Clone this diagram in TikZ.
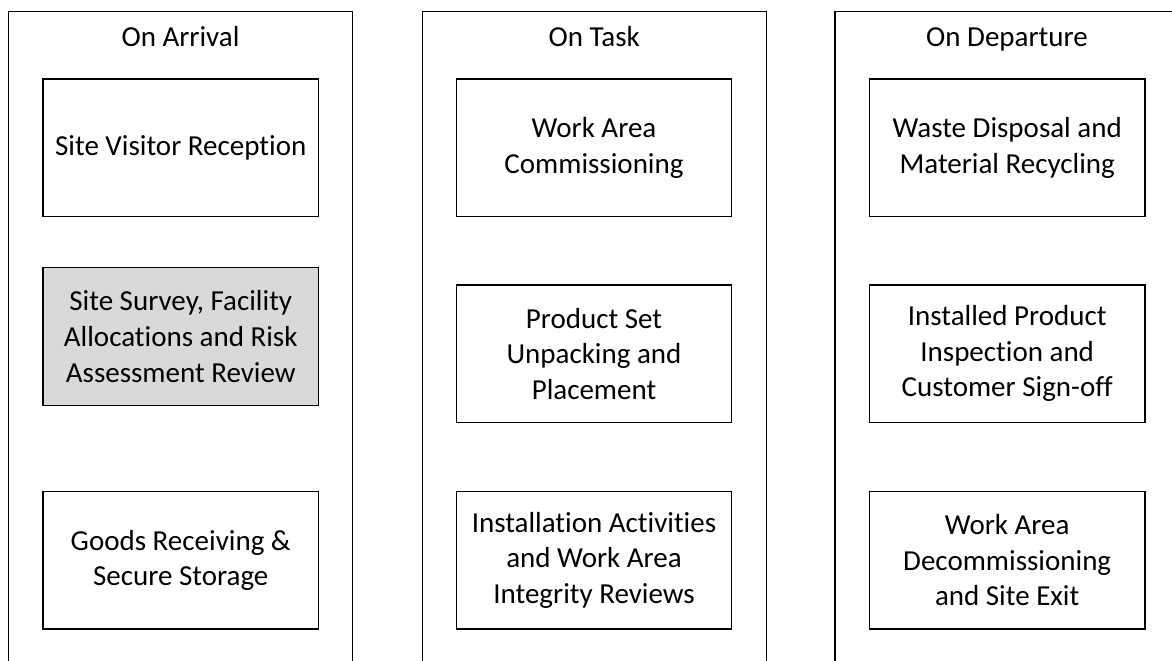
\documentclass[tikz,border=0pt]{standalone}
\usepackage{fontspec}
\setmainfont{Carlito}[Ligatures={NoCommon}]
\usetikzlibrary{positioning}

\definecolor{boxgray}{HTML}{D9D9D9}
\tikzset{
  lane/.style={draw,line width=0.55pt,minimum width=172pt,minimum height=335pt,anchor=north,inner sep=0pt},
  task/.style={draw,line width=0.7pt,minimum width=137.75pt,minimum height=68.75pt,align=center,inner sep=2pt},
  lanetitle/.style={anchor=base},
}

\begin{document}
\begin{tikzpicture}[x=0.5pt,y=-0.5pt,font=\fontsize{14.5}{17.8}\selectfont]
% Fix picture size and crop the open lane bottoms
\useasboundingbox (0,0) rectangle (1172,660);
\clip (0,0) rectangle (1172,660);
% Three lanes
\node[lane] (arrival) at (180.5,10.5) {};
\node[lane] (task) at (594.2,10.5) {};
\node[lane] (departure) at (1007,10.5) {};
% Lane titles
\node[lanetitle] (arrivaltitle) at (180.5,46.5) {On Arrival};
\node[lanetitle] (tasktitle) at (594.2,46.5) {On Task};
\node[lanetitle] (departuretitle) at (1007,46.5) {On Departure};
% On Arrival steps
\node[task] (reception) at (180.75,147.7) {Site Visitor Reception};
\node[task,fill=boxgray] (survey) at (180.75,336.5) {Site Survey, Facility\\Allocations and Risk\\Assessment Review};
\node[task] (goods) at (180.75,560.3) {Goods Receiving \&\\Secure Storage};
% On Task steps
\node[task] (commission) at (594,147.7) {Work Area\\Commissioning};
\node[task] (unpack) at (594,353.7) {Product Set\\Unpacking and\\Placement};
\node[task] (install) at (594,560.3) {Installation Activities\\and Work Area\\Integrity Reviews};
% On Departure steps
\node[task] (waste) at (1007.2,147.7) {Waste Disposal and\\Material Recycling};
\node[task] (inspect) at (1007.2,353.7) {Installed Product\\Inspection and\\Customer Sign-off};
\node[task] (exit) at (1007.2,560.3) {Work Area\\Decommissioning\\and Site Exit};
\end{tikzpicture}
\end{document}
